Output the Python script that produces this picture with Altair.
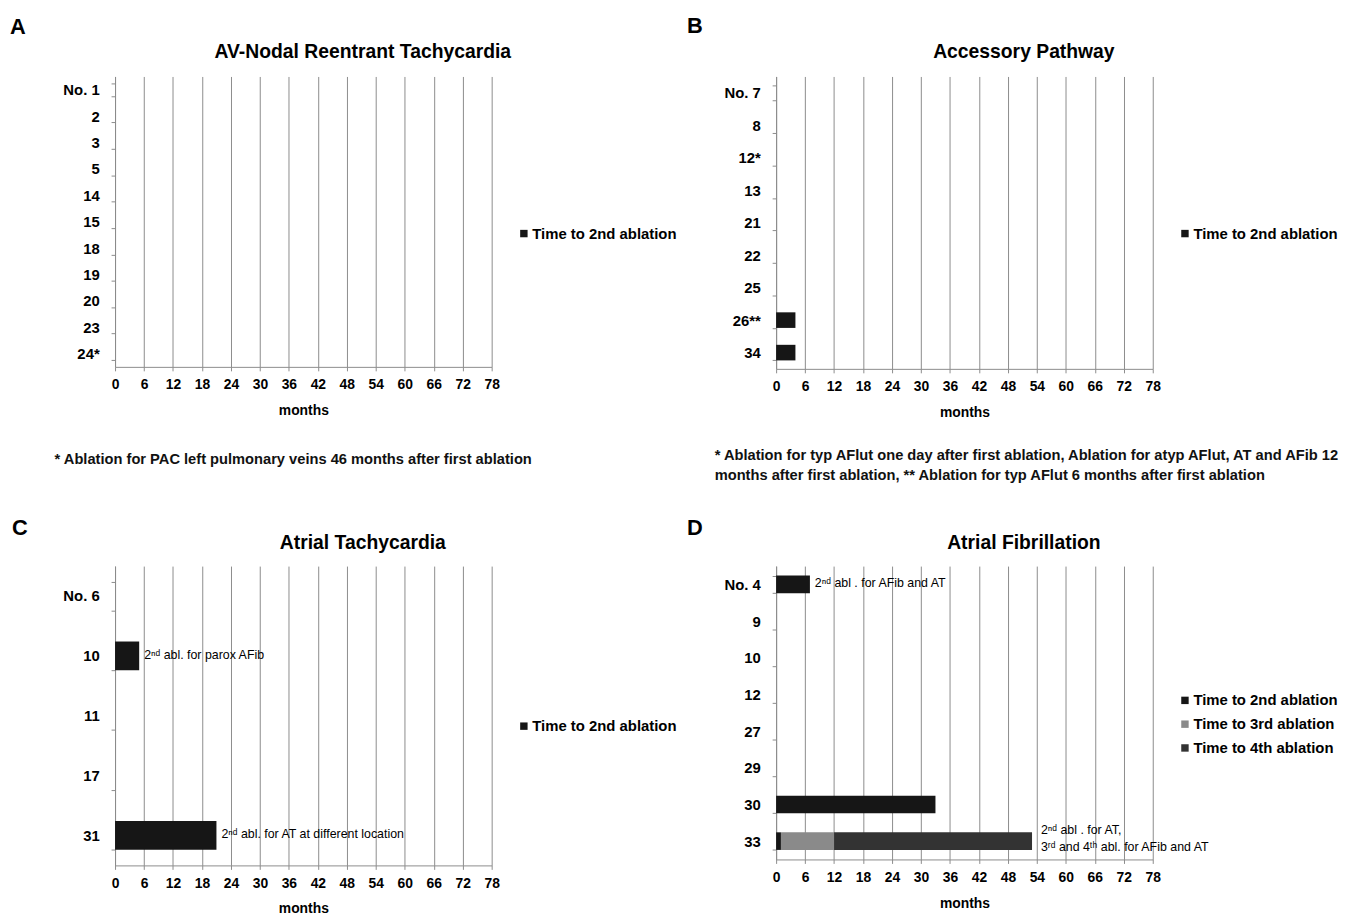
import altair as alt
import pandas as pd

# ---------------- data ----------------
x_ticks = [0, 6, 12, 18, 24, 30, 36, 42, 48, 54, 60, 66, 72, 78]
series_names = ["Time to 2nd ablation", "Time to 3rd ablation", "Time to 4th ablation"]
series_colors = ["#161616", "#8a8a8a", "#333333"]

# A: AV-Nodal Reentrant Tachycardia
a_ids = ["No. 1", "2", "3", "5", "14", "15", "18", "19", "20", "23", "24*"]
a_2nd = [0, 0, 0, 0, 0, 0, 0, 0, 0, 0, 0]
a_notes = ["", "", "", "", "", "", "", "", "", "", ""]

# B: Accessory Pathway
b_ids = ["No. 7", "8", "12*", "13", "21", "22", "25", "26**", "34"]
b_2nd = [0, 0, 0, 0, 0, 0, 0, 4, 4]
b_notes = ["", "", "", "", "", "", "", "", ""]

# C: Atrial Tachycardia
c_ids = ["No. 6", "10", "11", "17", "31"]
c_2nd = [0, 5, 0, 0, 21]
c_notes = ["", "2ⁿᵈ abl. for parox AFib", "", "", "2ⁿᵈ abl. for AT at different location"]

# D: Atrial Fibrillation
d_ids = ["No. 4", "9", "10", "12", "27", "29", "30", "33"]
d_2nd = [7, 0, 0, 0, 0, 0, 33, 1]
d_3rd = [0, 0, 0, 0, 0, 0, 0, 11]
d_4th = [0, 0, 0, 0, 0, 0, 0, 41]
d_notes = ["2ⁿᵈ abl . for AFib and AT", "", "", "", "", "", "",
           "2ⁿᵈ abl . for AT,\n3ʳᵈ and 4ᵗʰ abl. for AFib and AT"]

footnote_a = "* Ablation for PAC left pulmonary veins 46 months after first ablation"
footnote_b = ("* Ablation for typ AFlut one day after first ablation, Ablation for atyp AFlut, AT and AFib 12\n"
              "months after first ablation, ** Ablation for typ AFlut 6 months after first ablation")

FONT = "Liberation Sans"
W = 380
GRID = "#8c8c8c"


def x_axis():
    return alt.Axis(values=x_ticks, title="months", labelFont=FONT, labelFontSize=14,
                    labelFontWeight="bold", labelColor="black", tickSize=4, labelPadding=7,
                    labelFlush=False, labelOverlap=False,
                    tickColor=GRID, domainColor=GRID, grid=True, gridColor=GRID,
                    titleFont=FONT, titleFontSize=14, titleFontWeight="bold",
                    titleColor="black", titlePadding=12)


def panel(letter, title, ids, series_vals, notes, footnote, H, letter_x, letter_y,
          title_y, legend_y, foot_x, foot_y):
    names = series_names[:len(series_vals)]
    rows = []
    for s_i, (name, vals) in enumerate(zip(names, series_vals)):
        for pid, v in zip(ids, vals):
            rows.append({"patient": pid, "series": name, "months": v, "order": s_i})
    df = pd.DataFrame(rows)

    xscale = alt.Scale(domain=[0, 78], nice=False, zero=True)
    y_enc = alt.Y(
        "patient:N", sort=ids,
        scale=alt.Scale(domain=ids, paddingInner=0.52, paddingOuter=0.26),
        axis=alt.Axis(title=None, labelFont=FONT, labelFontSize=15, labelFontWeight="bold",
                      labelColor="black", tickBand="extent", tickSize=4, labelPadding=12,
                      tickColor=GRID, domainColor=GRID, grid=False),
    )
    bars = alt.Chart(df).mark_bar().encode(
        x=alt.X("months:Q", stack="zero", scale=xscale, axis=x_axis()),
        y=y_enc,
        color=alt.Color(
            "series:N",
            scale=alt.Scale(domain=names, range=series_colors[:len(names)]),
            legend=alt.Legend(title=None, orient="none", legendX=405, legendY=legend_y,
                              symbolType="square", symbolSize=56, symbolStrokeWidth=0,
                              labelFont=FONT, labelFontSize=15, labelFontWeight="bold",
                              labelColor="black", padding=0, rowPadding=8, labelOffset=1),
        ),
        order=alt.Order("order:Q"),
    )
    layers = [bars]

    totals = [sum(v[i] for v in series_vals) for i in range(len(ids))]
    ann = pd.DataFrame({"patient": ids, "total": totals, "note": notes})
    single = ann[(ann["note"] != "") & (~ann["note"].str.contains("\n"))]
    multi = ann[ann["note"].str.contains("\n")]
    if len(single):
        layers.append(
            alt.Chart(single).mark_text(align="left", baseline="middle", dx=5, dy=-1,
                                        fontSize=12.5, font=FONT, color="black").encode(
                x=alt.X("total:Q", scale=xscale, axis=x_axis()),
                y=alt.Y("patient:N", sort=ids),
                text="note:N",
            )
        )
    if len(multi):
        layers.append(
            alt.Chart(multi).mark_text(align="left", baseline="middle", dx=9, dy=-11,
                                       fontSize=12.5, font=FONT, color="black",
                                       lineBreak="\n", lineHeight=17).encode(
                x=alt.X("total:Q", scale=xscale, axis=x_axis()),
                y=alt.Y("patient:N", sort=ids),
                text="note:N",
            )
        )

    layers.append(
        alt.Chart(pd.DataFrame({"t": [letter]})).mark_text(
            align="left", baseline="middle", fontSize=22, fontWeight="bold", font=FONT,
            color="black").encode(x=alt.value(letter_x), y=alt.value(letter_y), text="t:N")
    )
    layers.append(
        alt.Chart(pd.DataFrame({"t": [title]})).mark_text(
            align="center", baseline="middle", fontSize=19.5, fontWeight="bold", font=FONT,
            color="black").encode(x=alt.value(W / 2 + 60), y=alt.value(title_y), text="t:N")
    )
    if footnote:
        layers.append(
            alt.Chart(pd.DataFrame({"t": [footnote]})).mark_text(
                align="left", baseline="middle", fontSize=14.8, fontWeight="bold", font=FONT,
                color="#111111", lineBreak="\n", lineHeight=20).encode(
                x=alt.value(foot_x), y=alt.value(foot_y), text="t:N")
        )

    return alt.layer(*layers).properties(width=W, height=H)


pA = panel("A", "AV-Nodal Reentrant Tachycardia", a_ids, [a_2nd], a_notes, footnote_a, 293,
           -106, -50, -25, 151, -61, 295 + 92)
pB = panel("B", "Accessory Pathway", b_ids, [b_2nd], b_notes, footnote_b, 295,
           -90, -51, -25, 151, -62, 295 + 88)
pC = panel("C", "Atrial Tachycardia", c_ids, [c_2nd], c_notes, None, 302,
           -104, -38, -23, 154, 0, 0)
pD = panel("D", "Atrial Fibrillation", d_ids, [d_2nd, d_3rd, d_4th], d_notes, None, 296,
           -90, -38, -23, 128, 0, 0)

chart = alt.concat(pA, pB, pC, pD, columns=2, spacing={"row": 199, "column": 287},
                   bounds="flush").resolve_scale(
    x="independent", y="independent", color="independent"
).resolve_legend(color="independent").configure_view(stroke=None).properties(
    background="white", padding={"left": 2, "top": 3, "right": 5, "bottom": 0}
)

chart.save("out.html", embed_options={"renderer": "svg", "actions": False})
